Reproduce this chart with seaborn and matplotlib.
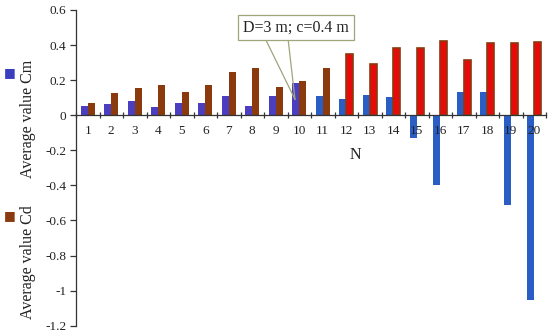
import numpy as np
import pandas as pd
import matplotlib
matplotlib.use("Agg")
import matplotlib.pyplot as plt
import seaborn as sns

# ---- data ----
categories = [str(i) for i in range(1, 21)]
cm_values = [0.051, 0.063, 0.084, 0.046, 0.067, 0.067, 0.107, 0.050, 0.107, 0.181,
             0.111, 0.095, 0.113, 0.103, -0.129, -0.396, 0.131, 0.131, -0.510, -1.053]
cd_values = [0.071, 0.128, 0.156, 0.170, 0.135, 0.171, 0.248, 0.271, 0.160, 0.198,
             0.272, 0.348, 0.293, 0.381, 0.381, 0.421, 0.316, 0.410, 0.413, 0.417]
y_ticks = [-1.2, -1.0, -0.8, -0.6, -0.4, -0.2, 0.0, 0.2, 0.4, 0.6]
y_tick_labels = ["-1.2", "-1", "-0.8", "-0.6", "-0.4", "-0.2", "0", "0.2", "0.4", "0.6"]
series_names = ["Average value Cm", "Average value Cd"]
annotation_text = "D=3 m; c=0.4 m"

# per-bar colours
cm_colors = ["#4B3FC0"] * 10 + ["#2A5EC4"] * 10
cd_colors = ["#8B3A0E"] * 11 + ["#E80A0A"] * 9
cd_edges = ["#8B3A0E"] * 20

df = pd.DataFrame({
    "N": categories * 2,
    "value": cm_values + cd_values,
    "series": [series_names[0]] * 20 + [series_names[1]] * 20,
})

sns.set_style("white")
plt.rcParams["font.family"] = ["Liberation Serif", "DejaVu Serif"]

fig = plt.figure(figsize=(5.5, 3.35), dpi=100)
ax = fig.add_axes([76 / 550, 1 - 325.7 / 335, 470 / 550, (325.7 - 10) / 335])

sns.barplot(data=df, x="N", y="value", hue="series", order=categories,
            hue_order=series_names, width=0.6, dodge=True, ax=ax,
            palette=["#4B3FC0", "#8B3A0E"], legend=False, saturation=1)

# recolour bars individually
bars = [p for p in ax.patches]
for i, p in enumerate(bars[:20]):
    p.set_facecolor(cm_colors[i])
    p.set_edgecolor("none")
    p.set_zorder(1)
for i, p in enumerate(bars[20:40]):
    p.set_facecolor(cd_colors[i])
    p.set_zorder(1)
    if cd_colors[i] != cd_edges[i]:
        p.set_edgecolor(cd_edges[i])
        p.set_linewidth(1.2)
    else:
        p.set_edgecolor("none")

ax.set_axisbelow(False)
ax.set_xlim(-0.5, 19.5)
ax.set_ylim(-1.2, 0.6)
ax.set_yticks(y_ticks)
ax.set_yticklabels(y_tick_labels)
ax.set_xlabel("")
ax.set_ylabel("")

for s in ["top", "right"]:
    ax.spines[s].set_visible(False)
ax.spines["bottom"].set_position(("data", 0))
for s in ["left", "bottom"]:
    ax.spines[s].set_color("#333333")
    ax.spines[s].set_linewidth(0.9)
    ax.spines[s].set_zorder(3)

ax.tick_params(axis="y", which="major", direction="out", length=4, width=0.9,
               color="#333333", labelsize=9.5, labelcolor="#222222", pad=3, left=True)
ax.tick_params(axis="x", which="major", length=0, labelsize=9.5, labelcolor="#222222", pad=7)
ax.set_xticks(np.arange(-0.5, 20.0, 1.0), minor=True)
ax.tick_params(axis="x", which="minor", direction="inout", length=5, width=0.9,
               color="#333333", bottom=True)
for lab in ax.get_xticklabels():
    lab.set_zorder(5)

# axis label N
ax.text(11.37, -0.225, "N", ha="center", va="center", fontsize=11.5, color="#222222")

# legend drawn vertically on the left
fig.text(10 / 550, 1 - 73 / 335, "\u25A0", color="#3A3FC0", fontsize=9,
         ha="center", va="center", family=["DejaVu Sans"])
fig.text(28 / 550, 1 - 119 / 335, series_names[0], rotation=90, ha="center",
         va="center", fontsize=11.5, color="#222222")
fig.text(10 / 550, 1 - 216 / 335, "\u25A0", color="#8B3A0E", fontsize=9,
         ha="center", va="center", family=["DejaVu Sans"])
fig.text(28 / 550, 1 - 262 / 335, series_names[1], rotation=90, ha="center",
         va="center", fontsize=11.5, color="#222222")

# callout annotation
box_x, box_y = 8.86, 0.50
tip_x, tip_y = 8.82, 0.09
ax.annotate("", xy=(tip_x, tip_y), xytext=(7.54, 0.44),
            arrowprops=dict(arrowstyle="-", color="#9EA67A", lw=0.9,
                            shrinkA=0, shrinkB=0))
ax.annotate("", xy=(tip_x, tip_y), xytext=(8.52, 0.44),
            arrowprops=dict(arrowstyle="-", color="#9EA67A", lw=0.9,
                            shrinkA=0, shrinkB=0))
ax.text(box_x, box_y, annotation_text, ha="center", va="center", fontsize=11.5,
        color="#222222", zorder=6,
        bbox=dict(boxstyle="square,pad=0.3", facecolor="white",
                  edgecolor="#9EA67A", linewidth=0.9))

fig.savefig("out.png", dpi=100)
